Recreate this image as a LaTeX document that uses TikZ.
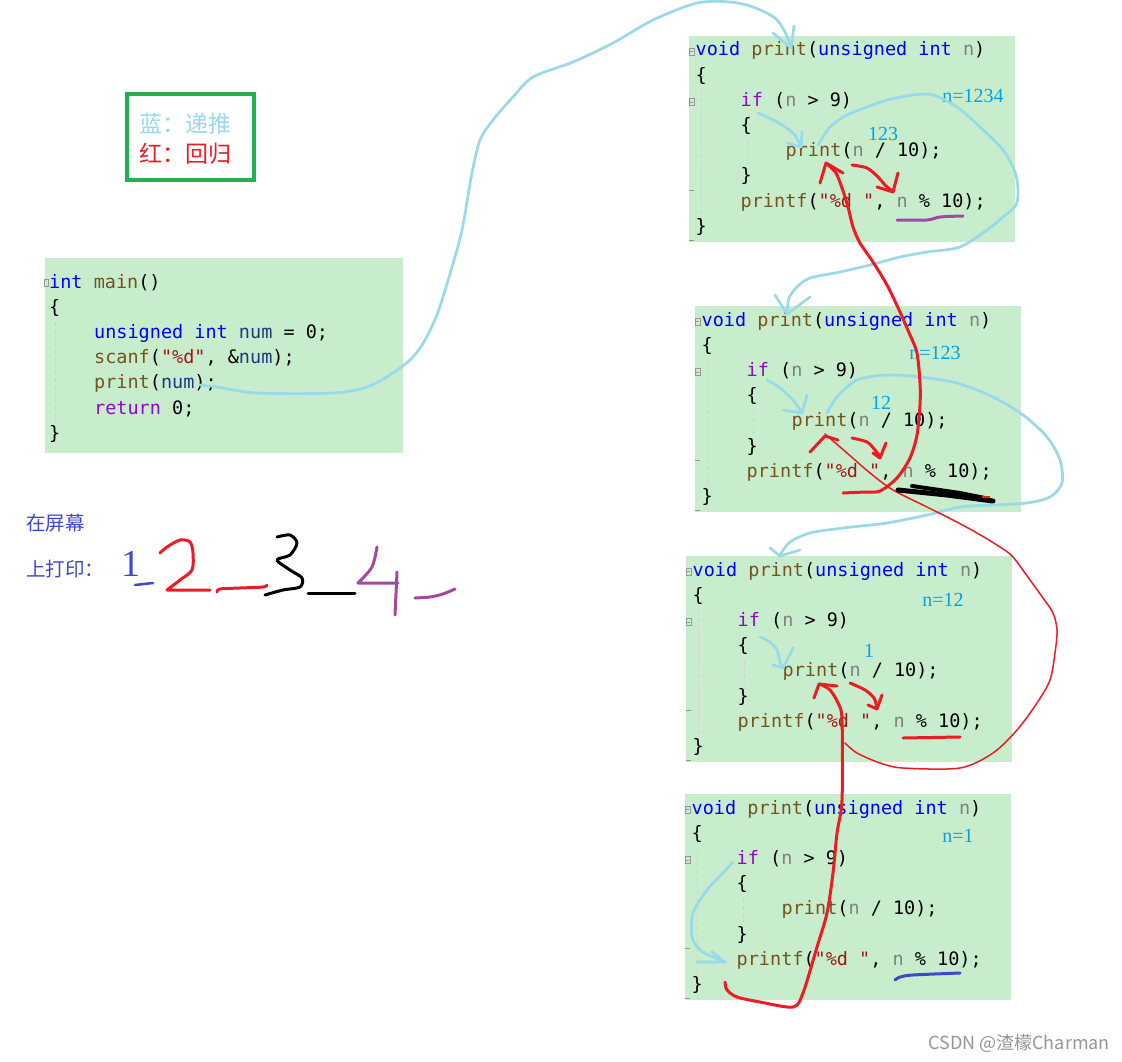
\documentclass[tikz,border=0pt]{standalone}
\usepackage{fontspec}
\setmainfont{Liberation Serif}
\setmonofont{DejaVu Sans Mono}
\newfontfamily\cjk{Noto Sans CJK SC}
\usetikzlibrary{arrows.meta}
\definecolor{codebg}{RGB}{199,237,204}
\definecolor{kw}{RGB}{0,0,255}
\definecolor{fn}{RGB}{116,83,31}
\definecolor{strc}{RGB}{163,21,21}
\definecolor{varc}{RGB}{128,128,128}
\definecolor{lvar}{RGB}{31,55,127}
\definecolor{ctl}{RGB}{143,8,196}
\definecolor{hblue}{RGB}{153,217,234}
\definecolor{hred}{RGB}{237,28,36}
\definecolor{hpurple}{RGB}{163,73,164}
\definecolor{hdblue}{RGB}{63,72,204}
\definecolor{lblue}{RGB}{0,162,232}
\definecolor{legendgreen}{RGB}{34,177,76}
\definecolor{guidec}{RGB}{222,200,212}
\definecolor{foldc}{RGB}{150,150,150}
\newcommand\codeK[1]{\textcolor{kw}{#1}}
\newcommand\codeF[1]{\textcolor{fn}{#1}}
\newcommand\codeS[1]{\textcolor{strc}{#1}}
\newcommand\codeV[1]{\textcolor{varc}{#1}}
\newcommand\codeN[1]{\textcolor{lvar}{#1}}
\newcommand\codeP[1]{\textcolor{ctl}{#1}}
\tikzset{
  code/.style={font=\ttfamily\fontsize{18.5}{22}\selectfont, inner sep=0pt, anchor=base west},
  bluestroke/.style={draw=hblue, line width=2.7pt, line cap=round, line join=round},
  redthick/.style={draw=hred, line width=3pt, line cap=round, line join=round},
  redthin/.style={draw=hred, line width=1.5pt, line cap=round, line join=round},
  vlabel/.style={font=\fontsize{20}{22}\selectfont, text=lblue, inner sep=0pt},
  guide/.style={draw=guidec, dash pattern=on 4pt off 3pt, line width=0.8pt},
  fold/.style={draw=foldc, line width=0.6pt},
}
\newcommand\printbox[3]{%
  \fill[codebg] (#2,#3) rectangle ++(326,206);
  \draw[fold] (#2,#3+12) rectangle ++(5,7);
  \draw[fold] (#2+1,#3+15.5) -- ++(3,0);
  \draw[fold] (#2,#3+62.5) rectangle ++(5,7);
  \draw[fold] (#2+1,#3+66) -- ++(3,0);
  \draw[fold] (#2,#3+154) -- ++(5,0);
  \draw[fold] (#2,#3+204) -- ++(5,0);
  \draw[guide] (#2+12,#3+55) -- (#2+12,#3+204);
  \draw[guide] (#2+58,#3+105) -- (#2+58,#3+128);
  \node[code] (#1l0) at (#2+6.5,#3+20) {\codeK{void} \codeF{print}(\codeK{unsigned} \codeK{int} \codeV{n})};
  \node[code] (#1l1) at (#2+6.5,#3+45.2) {\{};
  \node[code] (#1l2) at (#2+51.5,#3+70.4) {\codeP{if} (\codeV{n} > 9)};
  \node[code] (#1l3) at (#2+51.5,#3+95.6) {\{};
  \node[code] (#1l4) at (#2+96.5,#3+120.8) {\codeF{print}(\codeV{n} / 10);};
  \node[code] (#1l5) at (#2+51.5,#3+146) {\}};
  \node[code] (#1l6) at (#2+51.5,#3+171.2) {\codeF{printf}(\codeS{"\%d "}, \codeV{n} \% 10);};
  \node[code] (#1l7) at (#2+6.5,#3+196.4) {\}};
}
\begin{document}
\begin{tikzpicture}[x=1pt,y=-1pt]
\useasboundingbox (0,0) rectangle (1122,1062);
\fill[white] (0,0) rectangle (1122,1062);

% legend
\draw[legendgreen, line width=4pt] (126.5,94.5) rectangle (253.5,180);
\node[anchor=west, inner sep=0pt, font=\cjk\fontsize{23}{26}\selectfont, text=hblue] (leg1) at (139,124) {蓝：递推};
\node[anchor=west, inner sep=0pt, font=\cjk\fontsize{23}{26}\selectfont, text=hred] (leg2) at (139,154) {红：回归};

% main box
\fill[codebg] (45,258) rectangle (403,453);
\draw[fold] (44.5,279) rectangle ++(4,7);
\draw[guide] (55,322) -- (55,443);
\node[code] (m0) at (49,288) {\codeK{int} \codeF{main}()};
\node[code] (m1) at (49,313.2) {\{};
\node[code] (m2) at (94,338.4) {\codeK{unsigned} \codeK{int} \codeN{num} = 0;};
\node[code] (m3) at (94,363.6) {\codeF{scanf}(\codeS{"\%d"}, \&\codeN{num});};
\node[code] (m4) at (94,388.8) {\codeF{print}(\codeN{num});};
\node[code] (m5) at (94,414) {\codeP{return} 0;};
\node[code] (m6) at (49,439.2) {\}};

% print boxes
\printbox{a}{689}{36}
\printbox{b}{695}{306}
\printbox{c}{686}{556}
\printbox{d}{685}{794}

% value labels
\node[vlabel] (na) at (973,96) {n=1234};
\node[vlabel] (va) at (883,134) {123};
\node[vlabel] (nb) at (935,353) {n=123};
\node[vlabel] (vb) at (881,403) {12};
\node[vlabel] (nc) at (943,600) {n=12};
\node[vlabel] (vc) at (869,651) {1};
\node[vlabel] (nd) at (958,836) {n=1};

% screen output
\node[anchor=west, inner sep=0pt, font=\cjk\fontsize{19.5}{22}\selectfont, text=hdblue] (scr1) at (26,523) {在屏幕};
\node[anchor=west, inner sep=0pt, font=\cjk\fontsize{19.5}{22}\selectfont, text=hdblue] (scr2) at (26,569) {上打印：};
\node[anchor=base, inner sep=0pt, font=\fontsize{38}{40}\selectfont, text=hdblue] (d1) at (131,576) {1};
\draw[hdblue, line width=2.5pt, line cap=round] (135,585) -- (153,583);
\draw[hred, line width=3pt, line cap=round, line join=round] plot[smooth, tension=0.5] coordinates {(160,553) (167,547) (180,540) (190,542) (193,553) (192,570) (180,580) (167,590)} -- (210,590);
\draw[hred, line width=3pt, line cap=round, line join=round] plot[smooth, tension=0.5] coordinates {(217,592) (220,589) (240,588) (263,587) (267,585)};
\draw[black, line width=3pt, line cap=round, line join=round] plot[smooth, tension=0.5] coordinates {(277,537) (290,535) (297,543) (290,555) (277,560) (290,570) (302,578) (300,587) (283,590) (265,595)};
\draw[black, line width=3pt, line cap=round] (308,593) -- (355,593);
\draw[hpurple, line width=3pt, line cap=round, line join=round] plot[smooth, tension=0.5] coordinates {(377,547) (372,567) (358,583)} -- (398,583);
\draw[hpurple, line width=3pt, line cap=round] (397,572) -- (395,615);
\draw[hpurple, line width=3pt, line cap=round, line join=round] plot[smooth, tension=0.5] coordinates {(415,598) (430,597) (443,594) (455,589)};

% blue (recursion) strokes
\draw[bluestroke] plot[smooth, tension=0.5] coordinates {(200,385) (217,387) (257,393) (333,393) (367,387) (393,373) (412,358) (425,340) (438,312) (452,267) (462,230) (472,173) (480,140) (493,120) (513,97) (533,77) (573,62) (613,43) (653,20) (697,3) (730,2) (753,7) (775,18) (785,32) (791,47)};
\draw[bluestroke] (773,33) -- (791,48) -- (794,26);

\draw[bluestroke] plot[smooth, tension=0.5] coordinates {(758,113) (777,122) (793,133) (801,146)};
\draw[bluestroke] (802,132) -- (801,147) -- (787,143);
\draw[bluestroke] plot[smooth, tension=0.5] coordinates {(818,145) (830,127) (847,115) (867,107) (887,100) (913,95) (933,95) (957,107) (980,127) (1003,150) (1015,172) (1018,190) (1016,205) (1003,217) (987,230) (960,247) (927,252) (900,257) (870,265) (840,272) (810,278) (797,287) (789,298) (787,313)};
\draw[bluestroke] (775,295) -- (787,314) -- (810,297);

\draw[bluestroke] plot[smooth, tension=0.5] coordinates {(767,380) (780,388) (793,400) (802,413)};
\draw[bluestroke] (807,395) -- (802,413) -- (783,410);
\draw[bluestroke] plot[smooth, tension=0.5] coordinates {(827,413) (837,397) (857,380) (887,375) (920,377) (957,383) (993,397) (1023,415) (1047,437) (1060,460) (1062,483) (1050,497) (1027,503) (993,505) (960,507) (927,515) (887,523) (843,528) (810,533) (790,542) (780,555)};
\draw[bluestroke] (770,548) -- (780,556) -- (800,550);

\draw[bluestroke] plot[smooth, tension=0.5] coordinates {(760,637) (770,642) (777,650) (780,662) (783,668)};
\draw[bluestroke] (793,648) -- (783,668) -- (773,665);

\draw[bluestroke] plot[smooth, tension=0.5] coordinates {(733,862) (723,873) (707,890) (693,913) (692,937) (700,950) (713,957) (725,962)};
\draw[bluestroke] (712,952) -- (725,962) -- (697,962);

% red (return) strokes
\draw[redthick] plot[smooth, tension=0.5] coordinates {(725,982) (727,990) (737,997) (760,1002) (793,1007) (803,993) (817,947) (827,913) (833,873) (837,833) (842,800) (842,720) (838,703) (830,690) (820,684)};
\draw[redthick] (814,698) -- (819,684) -- (837,686);
\draw[redthick] plot[smooth, tension=0.5] coordinates {(850,683) (865,690) (874,698) (877,708)};
\draw[redthick] (882,695) -- (877,709) -- (868,705);
\draw[redthick] (903,738) -- (960,737);

\draw[redthin] plot[smooth, tension=0.5] coordinates {(825,434) (847,453) (870,473) (893,490) (927,507) (953,520) (977,533) (1000,547) (1013,557) (1030,580) (1043,598) (1053,613) (1057,630) (1055,653) (1050,680) (1037,703) (1017,730) (993,753) (960,768) (903,768) (880,763) (857,753) (845,743)};
\draw[redthick] (810,452) -- (825,436) -- (838,440);
\draw[redthick] plot[smooth, tension=0.5] coordinates {(852,438) (867,442) (875,450) (880,457)};
\draw[redthick] (886,443) -- (880,458) -- (873,453);

\draw[redthick] plot[smooth, tension=0.5] coordinates {(843,493) (865,492) (880,491) (897,478) (910,458) (917,435) (920,405) (920,383) (917,353) (910,335) (900,312) (887,285) (873,262) (860,243) (853,227) (848,207) (842,188) (836,173) (828,165)};
\draw[redthick] (820,183) -- (826,163) -- (843,173);
\draw[redthick] plot[smooth, tension=0.5] coordinates {(852,165) (867,168) (878,177) (885,185) (892,191)};
\draw[redthick] (898,173) -- (893,192) -- (877,187);

% underlines / scribbles
\draw[hpurple, line width=3pt, line cap=round, line join=round] plot[smooth, tension=0.5] coordinates {(897,220) (927,220) (940,217) (963,216)};
\draw[black, line width=5pt, line cap=round] (898,490) -- (947,495) -- (993,501);
\draw[black, line width=4pt, line cap=round] (912,486) -- (960,493) -- (985,498);
\draw[hred, line width=2pt] (982,497) -- (990,497);
\draw[hdblue, line width=3pt, line cap=round, line join=round] plot[smooth, tension=0.5] coordinates {(895,980) (900,977) (913,975) (960,973)};

% watermark
\node[anchor=east, inner sep=0pt, font=\cjk\fontsize{18}{20}\selectfont, text={rgb,255:red,150;green,150;blue,150}] (wm) at (1110,1043) {CSDN @渣檬Charman};
\end{tikzpicture}
\end{document}
